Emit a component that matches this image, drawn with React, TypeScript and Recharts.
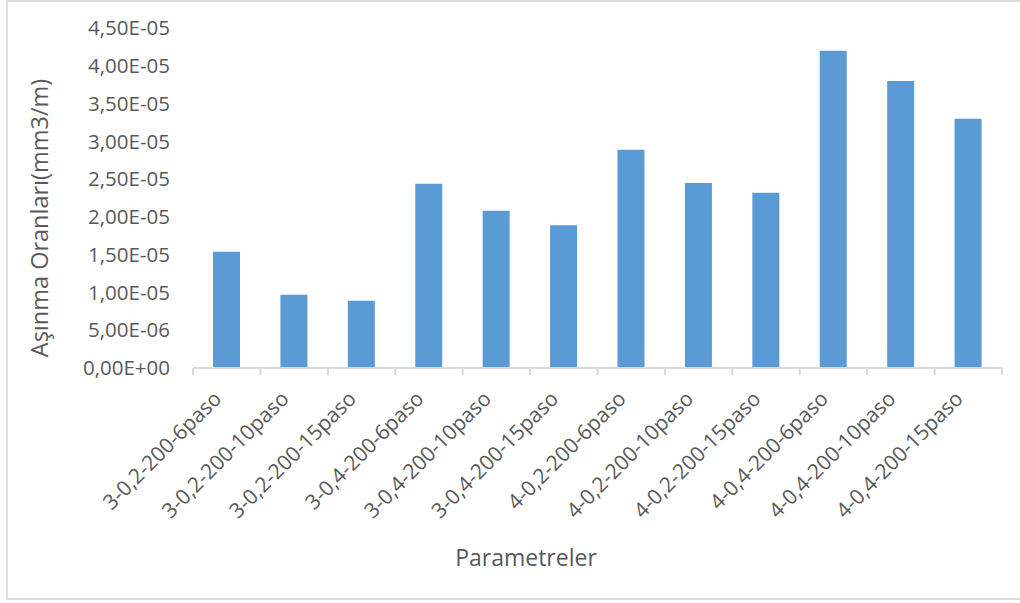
import { Bar, BarChart, Label, XAxis, YAxis } from "recharts";

// Parameter combinations on the x axis
const categories = [
  "3-0,2-200-6paso",
  "3-0,2-200-10paso",
  "3-0,2-200-15paso",
  "3-0,4-200-6paso",
  "3-0,4-200-10paso",
  "3-0,4-200-15paso",
  "4-0,2-200-6paso",
  "4-0,2-200-10paso",
  "4-0,2-200-15paso",
  "4-0,4-200-6paso",
  "4-0,4-200-10paso",
  "4-0,4-200-15paso",
];

// Wear rates (mm3/m)
const wearRates = [
  1.54e-5, 0.97e-5, 0.89e-5, 2.44e-5, 2.08e-5, 1.89e-5,
  2.89e-5, 2.45e-5, 2.32e-5, 4.2e-5, 3.8e-5, 3.3e-5,
];

const yTicks = [0, 5e-6, 1e-5, 1.5e-5, 2e-5, 2.5e-5, 3e-5, 3.5e-5, 4e-5, 4.5e-5];

// category slots on a numeric axis: boundaries at integers, labels at the half steps
const xTicks = Array.from({ length: categories.length * 2 + 1 }, (_, i) => i / 2);

const data = categories.map((name, i) => ({ pos: i + 0.5, name, rate: wearRates[i] }));

const font = "'Open Sans', sans-serif";
const textColor = "#595959";
const lineColor = "#d9d9d9";

function sci(v: number) {
  if (v === 0) return "0,00E+00";
  const [m, e] = v.toExponential(2).split("e");
  const n = parseInt(e, 10);
  return m.replace(".", ",") + "E" + (n < 0 ? "-" : "+") + String(Math.abs(n)).padStart(2, "0");
}

function SlotTick({ x, y, payload }: any) {
  const v = payload.value as number;
  if (Number.isInteger(v)) {
    return <line x1={x} x2={x} y1={y} y2={y + 7} stroke={lineColor} strokeWidth={2} />;
  }
  const ax = x - 4;
  const ay = y + 32;
  return (
    <text
      x={ax}
      y={ay}
      transform={`rotate(-45, ${ax}, ${ay})`}
      textAnchor="end"
      fill={textColor}
      fontSize={21}
      fontFamily={font}
    >
      {categories[Math.floor(v)]}
    </text>
  );
}

export default function App() {
  return (
    <div style={{ position: "fixed", left: 0, top: 0, width: 1020, height: 603, overflow: "hidden", background: "#fff" }}>
      <div
        style={{
          position: "absolute",
          left: 6,
          top: 0,
          width: 1030,
          height: 600,
          boxSizing: "border-box",
          border: "2px solid #dedede",
        }}
      />
      <div style={{ position: "absolute", left: 0, top: 0 }}>
        <BarChart
          width={1020}
          height={603}
          data={data}
          margin={{ top: 28, right: 18, left: 0, bottom: 0 }}
        >
          <XAxis
            dataKey="pos"
            type="number"
            domain={[0, categories.length]}
            ticks={xTicks}
            interval={0}
            allowDataOverflow
            height={235}
            stroke={lineColor}
            strokeWidth={2}
            tickLine={false}
            tickSize={0}
            tickMargin={0}
            tick={<SlotTick />}
          >
            <Label
              content={() => (
                <text
                  x={526}
                  y={557}
                  textAnchor="middle"
                  dominantBaseline="central"
                  fill={textColor}
                  fontSize={23}
                  fontFamily={font}
                >
                  Parametreler
                </text>
              )}
            />
          </XAxis>
          <YAxis
            width={193}
            domain={[0, 4.5e-5]}
            ticks={yTicks}
            tickFormatter={sci}
            axisLine={false}
            tickLine={false}
            tickSize={6}
            tickMargin={17}
            tick={{ fill: textColor, fontSize: 20.5, fontFamily: font }}
          >
            <Label
              content={() => (
                <text
                  x={39}
                  y={218}
                  transform="rotate(-90, 39, 218)"
                  textAnchor="middle"
                  dominantBaseline="central"
                  fill={textColor}
                  fontSize={23.5}
                  fontFamily={font}
                >
                  Aşınma Oranları(mm3/m)
                </text>
              )}
            />
          </YAxis>
          <Bar dataKey="rate" fill="#5b9bd5" barSize={27} isAnimationActive={false} />
        </BarChart>
      </div>
    </div>
  );
}
